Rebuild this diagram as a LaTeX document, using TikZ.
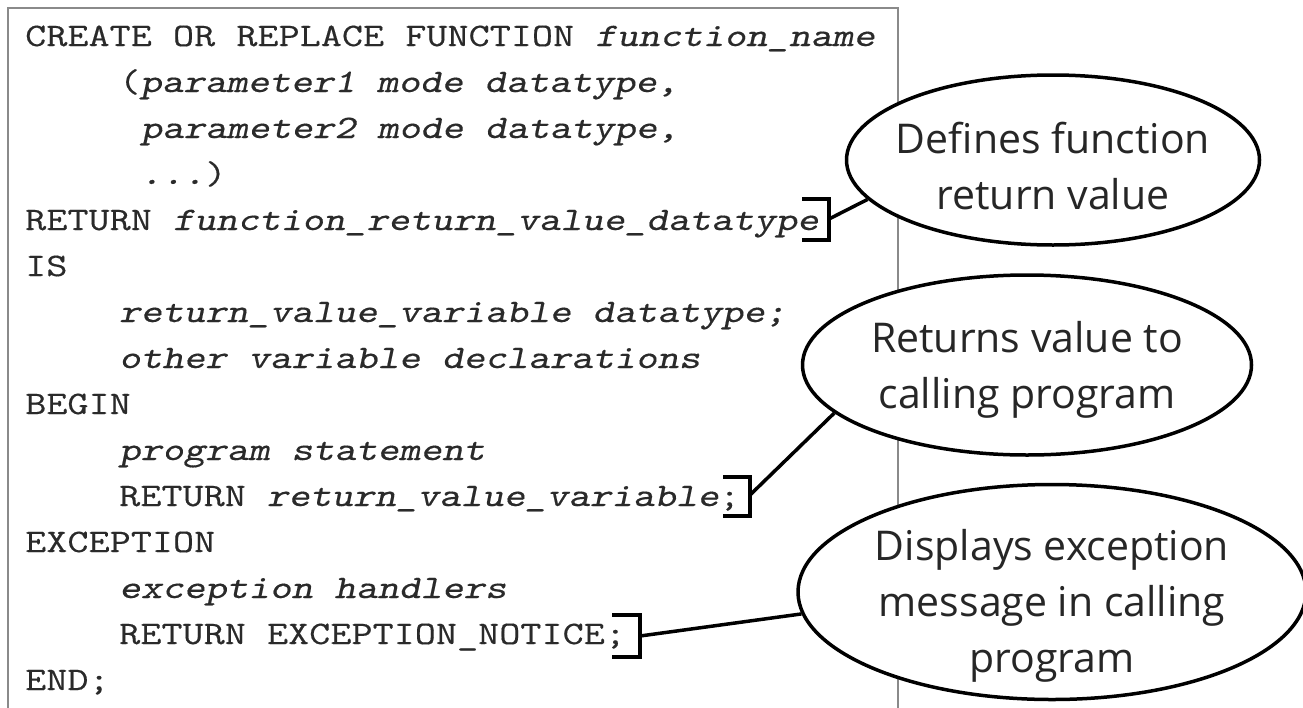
\documentclass[tikz,border=0pt]{standalone}
\usepackage{fontspec}
\setmainfont{Open Sans}
\setmonofont[FakeStretch=1.25, FakeBold=0.4, ItalicFont={Latin Modern Mono Slanted}]{Latin Modern Mono}
\usetikzlibrary{shapes.geometric}
\definecolor{codegray}{HTML}{2A2A2A}
\definecolor{boxgray}{HTML}{8A8A8A}
\begin{document}
\begin{tikzpicture}[x=1pt,y=-1pt,
  code/.style={anchor=base west, inner sep=0pt, font=\fontsize{32.8}{46}\selectfont\ttfamily, text=codegray},
  callout/.style={ellipse, draw, fill=white, line width=3.5pt, inner sep=0pt},
  callouttext/.style={inner sep=0pt, align=center, font=\fontsize{41}{56}\selectfont, text=black!85},
  brk/.style={line width=4pt, line join=miter},
  link/.style={line width=3.5pt}]
\useasboundingbox (0,0) rectangle (1303,707);
\draw[boxgray, line width=2pt] (8,720) -- (8,8) -- (898,8) -- (898,720);

\node[code] (l0) at (25,46) {CREATE OR REPLACE FUNCTION {\itshape function\_name}};
\node[code] (l1) at (119,92) {({\itshape parameter1 mode datatype,}};
\node[code] (l2) at (140.5,138) {{\itshape parameter2 mode datatype,}};
\node[code] (l3) at (140.5,184) {{\itshape ...})};
\node[code] (l4) at (25,230) {RETURN {\itshape function\_return\_value\_datatype}};
\node[code] (l5) at (25,276) {IS};
\node[code] (l6) at (119,322) {{\itshape return\_value\_variable datatype;}};
\node[code] (l7) at (119,368) {{\itshape other variable declarations}};
\node[code] (l8) at (25,414) {BEGIN};
\node[code] (l9) at (119,460) {{\itshape program statement}};
\node[code] (l10) at (119,506) {RETURN {\itshape return\_value\_variable};};
\node[code] (l11) at (25,552) {EXCEPTION};
\node[code] (l12) at (119,598) {{\itshape exception handlers}};
\node[code] (l13) at (119,644) {RETURN EXCEPTION\_NOTICE;};
\node[code] (l14) at (25,690) {END;};

\node[callout, minimum width=413pt, minimum height=170pt] (e1) at (1053,160) {};
\node[callout, minimum width=449pt, minimum height=180pt] (e2) at (1027,365) {};
\node[callout, minimum width=508pt, minimum height=215pt] (e3) at (1052,592) {};
\node[callouttext] (t1) at (e1.center)
  {\rule{0pt}{54pt}Defines function\\return value\rule[-12pt]{0pt}{12pt}};
\node[callouttext] (t2) at (e2.center)
  {\rule{0pt}{42pt}Returns value to\\calling program\rule[-12pt]{0pt}{12pt}};
\node[callouttext] (t3) at (e3.center)
  {\rule{0pt}{60pt}Displays exception\\message in calling\\program\rule[-12pt]{0pt}{12pt}};

\coordinate (b1) at (829,219);
\coordinate (b2) at (750,495);
\coordinate (b3) at (640,636);
\draw[brk] (802,199) -- (829,199) -- (829,240) -- (802,240);
\draw[brk] (723,477) -- (750,477) -- (750,516) -- (723,516);
\draw[brk] (612,615) -- (640,615) -- (640,657) -- (612,657);

\draw[link] (b1) -- (e1.192);
\draw[link] (b2) -- (e2.194);
\draw[link] (b3) -- (e3.185);
\end{tikzpicture}
\end{document}
